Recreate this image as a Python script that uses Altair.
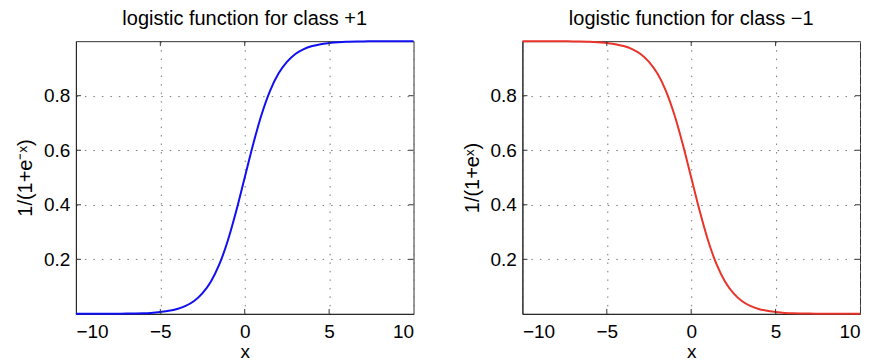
import altair as alt
import pandas as pd

# values
x_vals = [-10, -9, -8, -7, -6, -5, -4.5, -4, -3.5, -3, -2.5, -2, -1.5, -1, -0.5,
          0, 0.5, 1, 1.5, 2, 2.5, 3, 3.5, 4, 4.5, 5, 6, 7, 8, 9, 10]
y_class_pos = [0.000, 0.000, 0.000, 0.001, 0.002, 0.007, 0.011, 0.018, 0.029, 0.047,
               0.076, 0.119, 0.182, 0.269, 0.378, 0.500, 0.622, 0.731, 0.818, 0.881,
               0.924, 0.953, 0.971, 0.982, 0.989, 0.993, 0.998, 0.999, 1.000, 1.000, 1.000]
y_class_neg = [1.000, 1.000, 1.000, 0.999, 0.998, 0.993, 0.989, 0.982, 0.971, 0.953,
               0.924, 0.881, 0.818, 0.731, 0.622, 0.500, 0.378, 0.269, 0.182, 0.119,
               0.076, 0.047, 0.029, 0.018, 0.011, 0.007, 0.002, 0.001, 0.000, 0.000, 0.000]

x_ticks = [-10, -5, 0, 5, 10]
x_inner = [-5, 0, 5]
y_ticks = [0.2, 0.4, 0.6, 0.8]

titles = ["logistic function for class +1", "logistic function for class \u22121"]
y_titles = ["1/(1+e\u207b\u02e3)", "1/(1+e\u02e3)"]
colors = ["#1010f0", "#e8342a"]

FONT = "Liberation Sans"
W, H = 338, 273
TICK_X = 0.018   # inward tick length in y-units
TICK_Y = 0.3     # inward tick length in x-units


def panel(ys, color, title, ytitle):
    df = pd.DataFrame({"x": x_vals, "y": ys})
    xs = alt.Scale(domain=[-10, 10], nice=False, zero=False)
    yscale = alt.Scale(domain=[0, 1], nice=False, zero=False)
    xaxis = alt.Axis(values=x_ticks, title="x", grid=True, format="d",
                     labelPadding=9, titlePadding=1)
    yaxis = alt.Axis(values=y_ticks, title=ytitle, grid=True, format=".1f",
                     labelPadding=6, titlePadding=8, titleFontSize=20)

    line = alt.Chart(df).mark_line(color=color, strokeWidth=2, interpolate="monotone").encode(
        x=alt.X("x:Q", scale=xs, axis=xaxis, title="x"),
        y=alt.Y("y:Q", scale=yscale, axis=yaxis, title=ytitle),
    )

    xt = pd.DataFrame({"x": x_inner})
    yt = pd.DataFrame({"y": y_ticks})
    tcol = "#333333"
    bottom = alt.Chart(xt).mark_rule(color=tcol, strokeWidth=1).encode(
        x=alt.X("x:Q", title="x"), y=alt.datum(0), y2=alt.datum(TICK_X))
    top = alt.Chart(xt).mark_rule(color=tcol, strokeWidth=1).encode(
        x=alt.X("x:Q", title="x"), y=alt.datum(1), y2=alt.datum(1 - TICK_X))
    left = alt.Chart(yt).mark_rule(color=tcol, strokeWidth=1).encode(
        y=alt.Y("y:Q", title=ytitle), x=alt.datum(-10), x2=alt.datum(-10 + TICK_Y))
    right = alt.Chart(yt).mark_rule(color=tcol, strokeWidth=1).encode(
        y=alt.Y("y:Q", title=ytitle), x=alt.datum(10), x2=alt.datum(10 - TICK_Y))

    return alt.layer(line, bottom, top, left, right).properties(
        width=W, height=H, title=alt.TitleParams(title))


chart = alt.hconcat(
    panel(y_class_pos, colors[0], titles[0], y_titles[0]),
    panel(y_class_neg, colors[1], titles[1], y_titles[1]),
    spacing=43,
).properties(
    background="white",
    padding={"left": 7, "top": 0, "right": 0, "bottom": 0},
).configure_view(
    stroke="#333333", strokeWidth=1
).configure_axis(
    labelFont=FONT, labelFontSize=19, labelColor="black",
    titleFont=FONT, titleFontSize=19, titleFontWeight="normal", titleColor="black",
    domainColor="#222222", domainWidth=1, tickSize=0,
    gridColor="#777777", gridDash=[1.5, 7], gridWidth=1, gridOpacity=1,
).configure_title(
    font=FONT, fontSize=20, fontWeight="normal", color="black", offset=8, anchor="middle"
)

chart.save("out.html", embed_options={"renderer": "svg", "actions": False})
